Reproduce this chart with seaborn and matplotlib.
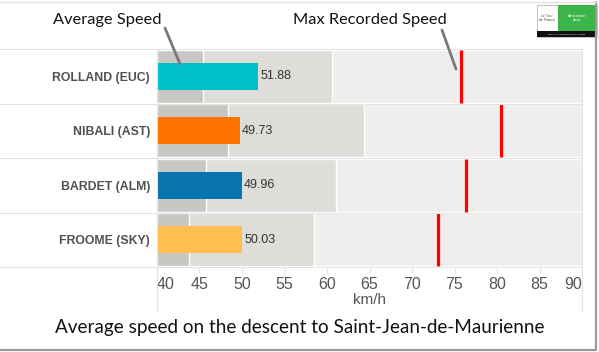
import matplotlib
matplotlib.use("Agg")
import matplotlib.pyplot as plt
from matplotlib.lines import Line2D
from matplotlib.patches import Rectangle
import seaborn as sns
import pandas as pd

# ---- data ----
riders = ["ROLLAND (EUC)", "NIBALI (AST)", "BARDET (ALM)", "FROOME (SKY)"]
avg_speed = [51.88, 49.73, 49.96, 50.03]
max_speed = [75.8, 80.5, 76.3, 73.1]
band_low = [45.4, 48.3, 45.8, 43.8]
band_mid = [60.6, 64.4, 61.1, 58.5]
bar_colors = ["#00C1CB", "#FF7300", "#0874AE", "#FFBF50"]
xticks = [40, 45, 50, 55, 60, 65, 70, 75, 80, 85, 90]

W, H = 599, 352
sns.set_theme(style="white")
plt.rcParams["font.family"] = ["Liberation Sans", "DejaVu Sans"]

fig = plt.figure(figsize=(W / 100, H / 100), dpi=100)
fig.patch.set_facecolor("white")


def fx(px):
    return px / W


def fy(py):
    return 1 - py / H


x0, x1, y0, y1 = 157, 582, 49, 267
ax = fig.add_axes([fx(x0), fy(y1), fx(x1 - x0), (y1 - y0) / H])
ax.set_facecolor("white")

ypos = list(range(len(riders)))
xmin, xmax = 40, 90
# background bands
ax.barh(ypos, [xmax - xmin] * 4, left=xmin, height=0.97, color="#EFEEED", zorder=0)
ax.barh(ypos, [m - xmin for m in band_mid], left=xmin, height=0.97, color="#DEDDDA", zorder=1)
ax.barh(ypos, [l - xmin for l in band_low], left=xmin, height=0.97, color="#C9C7C4", zorder=2)

df = pd.DataFrame({"rider": riders, "avg": avg_speed})
sns.barplot(data=df, x="avg", y="rider", hue="rider", palette=bar_colors,
            orient="h", width=0.5, legend=False, ax=ax, zorder=3,
            saturation=1, edgecolor="none")

for i, (a, m) in enumerate(zip(avg_speed, max_speed)):
    ax.text(a + 0.25, i, f"{a:.2f}", va="center", ha="left", fontsize=9,
            color="#333333", zorder=5)
    ax.plot([m, m], [i - 0.485, i + 0.485], color="#FF0000", lw=2.3,
            solid_capstyle="butt", zorder=4)

ax.set_xlim(xmin, xmax)
ax.set_ylim(3.5, -0.5)
ax.set_xticks(xticks)
ax.set_xticklabels([str(t) for t in xticks], fontsize=11.5, color="#555555")
labs = ax.get_xticklabels()
labs[0].set_ha("left")
labs[-1].set_ha("right")
ax.tick_params(axis="x", length=4, width=0.8, color="#E2E2E2", pad=3, bottom=True)
ax.tick_params(axis="y", length=0, pad=5)
for t in ax.get_yticklabels():
    t.set_fontweight("bold")
    t.set_fontsize(8.8)
    t.set_color("#505050")
ax.set_ylabel("")
ax.set_xlabel("km/h", fontsize=11, color="#555555", labelpad=1)
for s in ax.spines.values():
    s.set_visible(False)

# row separators
for yy in [49, 104, 158, 213, 267]:
    fig.add_artist(Line2D([fx(0), fx(582)], [fy(yy), fy(yy)], color="#E4E4E4", lw=0.8))
# vertical borders below axis
for xx in [157, 582]:
    fig.add_artist(Line2D([fx(xx), fx(xx)], [fy(49), fy(312)], color="#E4E4E4", lw=0.8))

# annotations
fig.text(fx(107), fy(20), "Average Speed", ha="center", va="center",
         fontsize=11.8, family=["Lato", "DejaVu Sans"], color="#111111")
fig.add_artist(Line2D([fx(165), fx(180)], [fy(28), fy(64)], color="#7A7A7A", lw=2))
fig.text(fx(370), fy(20), "Max Recorded Speed", ha="center", va="center",
         fontsize=11.8, family=["Lato", "DejaVu Sans"], color="#111111")
fig.add_artist(Line2D([fx(442), fx(456)], [fy(30), fy(69)], color="#7A7A7A", lw=2))

# title
fig.text(fx(300), fy(327), "Average speed on the descent to Saint-Jean-de-Maurienne",
         ha="center", va="center", fontsize=13.6, family=["Lato", "DejaVu Sans"],
         color="#111111")

# logo
fig.add_artist(Rectangle((fx(537), fy(37)), fx(60), (32) / H, facecolor="white",
                         edgecolor="#BBBBBB", lw=0.6))
fig.add_artist(Rectangle((fx(558), fy(31)), fx(39), (26) / H, facecolor="#3CB54A",
                         edgecolor="none"))
fig.add_artist(Rectangle((fx(537), fy(37)), fx(60), (6) / H, facecolor="#111111",
                         edgecolor="none"))
fig.text(fx(577), fy(18), "dimension\ndata", ha="center", va="center", fontsize=3,
         color="white", linespacing=0.9)
fig.text(fx(547), fy(18), "Le Tour\nde France", ha="center", va="center", fontsize=2.5,
         color="#444444", linespacing=0.9)
fig.text(fx(567), fy(34), "OFFICIAL TECHNOLOGY PARTNER", ha="center", va="center",
         fontsize=1.6, color="white")

# slide shadow border
fig.add_artist(Line2D([fx(596), fx(596)], [fy(2), fy(350)], color="#9A9A9A", lw=1.6))
fig.add_artist(Line2D([fx(0), fx(596)], [fy(350), fy(350)], color="#9A9A9A", lw=1.6))
fig.add_artist(Line2D([fx(0), fx(596)], [fy(2), fy(2)], color="#E0E0E0", lw=1))

fig.savefig("out.png", dpi=100, facecolor="white")
